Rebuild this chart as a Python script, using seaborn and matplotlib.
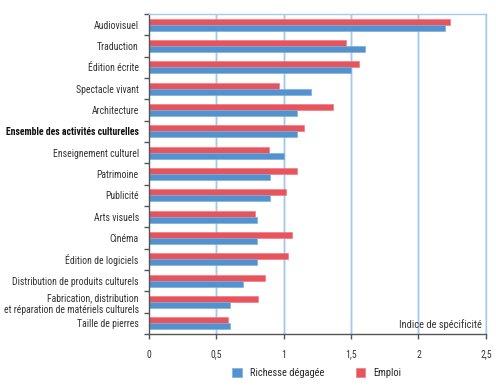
import matplotlib
matplotlib.use("Agg")
import matplotlib.pyplot as plt
import seaborn as sns
import pandas as pd
from matplotlib.ticker import FixedLocator, FuncFormatter

categories = [
    "Audiovisuel", "Traduction", "Édition écrite", "Spectacle vivant", "Architecture",
    "Ensemble des activités culturelles", "Enseignement culturel", "Patrimoine", "Publicité",
    "Arts visuels", "Cinéma", "Édition de logiciels", "Distribution de produits culturels",
    "Fabrication, distribution\net réparation de matériels culturels", "Taille de pierres",
]
richesse = [2.20, 1.60, 1.50, 1.20, 1.10, 1.10, 1.00, 0.90, 0.90, 0.80, 0.80, 0.80, 0.70, 0.60, 0.60]
emploi = [2.23, 1.46, 1.56, 0.97, 1.37, 1.15, 0.89, 1.10, 1.02, 0.79, 1.06, 1.03, 0.86, 0.81, 0.59]
series = ["Richesse dégagée", "Emploi"]
xticks = [0, 0.5, 1, 1.5, 2, 2.5]

sns.set_theme(style="white")
plt.rcParams['font.family'] = ['Roboto Condensed', 'DejaVu Sans']

df = pd.DataFrame({
    "cat": categories * 2,
    "val": richesse + emploi,
    "serie": [series[0]] * len(categories) + [series[1]] * len(categories),
})

blue = "#5592cc"
red = "#e4555e"

fig = plt.figure(figsize=(4.96, 3.88), dpi=100)
ax = fig.add_axes([148.5 / 496, 1 - 334 / 388, 337.5 / 496, 320 / 388])

sns.barplot(data=df, y="cat", x="val", hue="serie", hue_order=["Emploi", "Richesse dégagée"],
            palette={"Emploi": red, "Richesse dégagée": blue}, order=categories,
            orient="h", width=0.55, ax=ax, saturation=1, legend=True)
for p in ax.patches:
    fc = p.get_facecolor()
    p.set_edgecolor((min(fc[0] + 0.12, 1), min(fc[1] + 0.12, 1), min(fc[2] + 0.12, 1), 0.8))
    p.set_linewidth(0.6)

ax.set_xlim(0, 2.5)
ax.set_ylim(len(categories) - 0.5, -0.5)
ax.set_xticks(xticks)
ax.xaxis.set_major_formatter(FuncFormatter(lambda v, p: ("%g" % v).replace(".", ",")))
ax.set_xlabel("")
ax.set_ylabel("")
ax.grid(False)
for x in xticks[1:]:
    ax.axvline(x, color="#d6e7f6", lw=2.0, zorder=0)
    ax.axvline(x, color="#a7c9e8", lw=0.8, zorder=0)

for s in ["top", "right"]:
    ax.spines[s].set_color("#a7c9e8")
    ax.spines[s].set_linewidth(1.0)
for s in ["left", "bottom"]:
    ax.spines[s].set_color("#555555")
    ax.spines[s].set_linewidth(1.0)

ax.tick_params(axis="y", which="major", length=0, pad=7, labelsize=7, colors="#333333")
ax.yaxis.set_minor_locator(FixedLocator([i - 0.5 for i in range(len(categories) + 1)]))
ax.tick_params(axis="y", which="minor", left=True, length=3.5, width=1, color="#555555")
ax.tick_params(axis="x", which="major", bottom=True, length=3.5, width=1, color="#555555",
               pad=13.5, labelsize=7, labelcolor="#333333")
for lab in ax.get_xticklabels():
    lab.set_verticalalignment("baseline")
for lab in ax.get_yticklabels():
    lab.set_linespacing(1.2)
    if lab.get_text().startswith("Ensemble"):
        lab.set_fontweight("bold")
        lab.set_color("#111111")

ax.text(0.988, 0.028, "Indice de spécificité", transform=ax.transAxes, ha="right", va="center",
        fontsize=7.5, color="#333333")

handles, labels = ax.get_legend_handles_labels()
hmap = dict(zip(labels, handles))
ax.legend([hmap[s] for s in series], series, loc="center", bbox_to_anchor=(317 / 496, 1 - 373 / 388),
          bbox_transform=fig.transFigure, ncol=2, frameon=False, fontsize=7.5,
          handlelength=0.9, handleheight=0.9, columnspacing=3.0, handletextpad=0.8)

fig.savefig("out.png", dpi=100)
